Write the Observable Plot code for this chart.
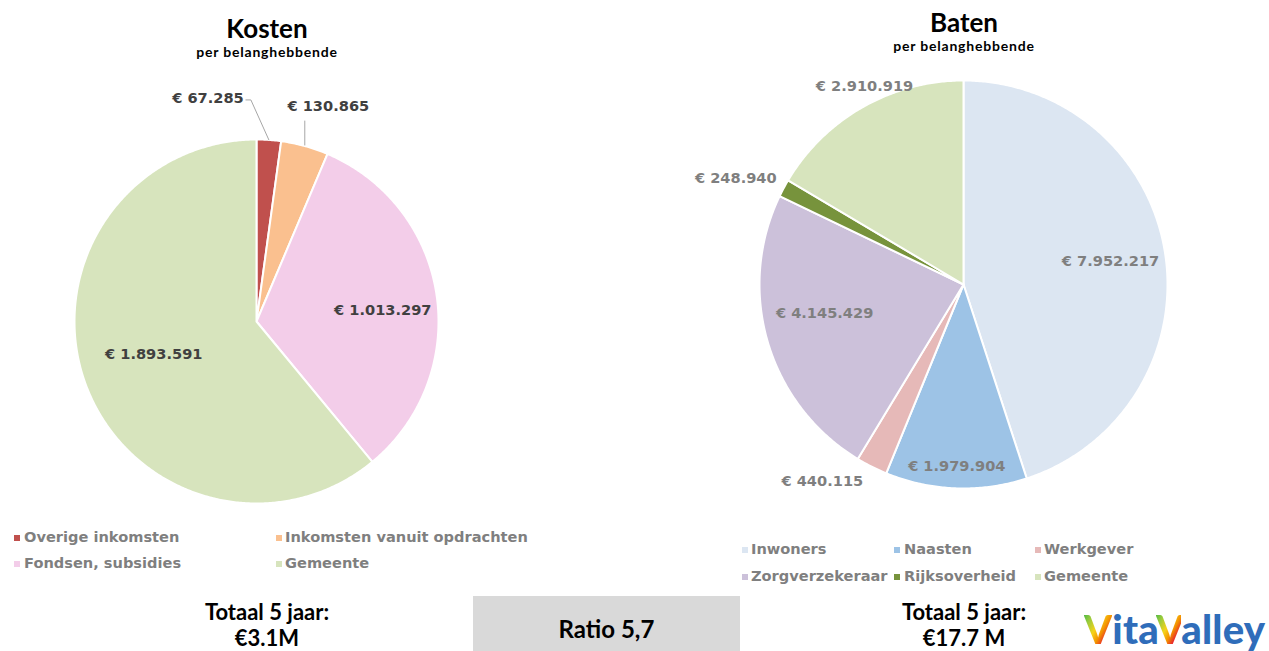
<!DOCTYPE html>
<html>
<head>
<meta charset="utf-8">
<script src="https://cdn.jsdelivr.net/npm/d3@7"></script>
<script src="https://cdn.jsdelivr.net/npm/@observablehq/plot@0.6"></script>
<style>
  html, body { margin: 0; padding: 0; background: #fff; }
  body { width: 1269px; height: 651px; overflow: hidden; position: relative; font-family: "DejaVu Sans", Verdana, sans-serif; }
  .abs { position: absolute; }
  .title { font-family: Lato, "Open Sans", sans-serif; font-weight: 700; font-size: 26px; color: #000; text-align: center; width: 300px; line-height: 1; }
  .subtitle { font-family: Lato, "Open Sans", sans-serif; font-weight: 700; font-size: 14px; letter-spacing: 0.8px; color: #000; text-align: center; width: 300px; line-height: 1; }
  .legend-item { font-family: "DejaVu Sans", sans-serif; font-weight: 700; font-size: 14.6px; color: #7f7f7f; white-space: nowrap; line-height: 1; }
  .swatch { position: absolute; width: 6px; height: 6px; }
  .total { font-family: Lato, "Open Sans", sans-serif; font-weight: 700; font-size: 22px; color: #000; text-align: center; width: 300px; line-height: 26px; }
  .ratio { background: #d9d9d9; font-family: Lato, "Open Sans", sans-serif; font-weight: 700; font-size: 24px; color: #000; display: flex; align-items: center; justify-content: center; padding-top: 10px; box-sizing: border-box; }
  .logo { font-family: Lato, "Open Sans", sans-serif; font-weight: 900; font-size: 40px; color: #2f6dba; line-height: 1; white-space: nowrap; letter-spacing: 0.2px; }
  .logo .v { background: linear-gradient(120deg, #1fae4b 0%, #9acb3c 25%, #f6d21a 45%, #f39200 60%, #e4003a 78%, #8e1e8e 100%); -webkit-background-clip: text; background-clip: text; color: transparent; }
</style>
</head>
<body>
<script>
// ---------- DATA ----------
const kostenCategories = ["Overige inkomsten", "Inkomsten vanuit opdrachten", "Fondsen, subsidies", "Gemeente"];
const kostenValues = [67285, 130865, 1013297, 1893591];
const kostenColors = ["#c0504d", "#fac08f", "#f3cde9", "#d7e4bd"];

const batenCategories = ["Inwoners", "Naasten", "Werkgever", "Zorgverzekeraar", "Rijksoverheid", "Gemeente"];
const batenValues = [7952217, 1979904, 440115, 4145429, 248940, 2910919];
const batenColors = ["#dce6f2", "#9dc3e6", "#e6b9b8", "#ccc1da", "#77933c", "#d7e4bd"];

const kostenTotalLabel = ["Totaal 5 jaar:", "€3.1M"];
const batenTotalLabel = ["Totaal 5 jaar:", "€17.7 M"];
const ratioLabel = "Ratio 5,7";

// ---------- LAYOUT (label placement relative to slice mid-angle) ----------
// k: distance from centre in radii, dx/dy: pixel nudge, anchor, leader: pixel offsets from slice edge
const kostenLabelLayout = [
  {k: 1.23, dx: -28, dy: 0, anchor: "end", leader: [[0, 0], [-18, -40], [-23, -40]]},
  {k: 1.18, dx: -26, dy: -8, anchor: "start", leader: [[0, -1], [0, -25]]},
  {k: 0.69, dx: 2, dy: 7, anchor: "middle"},
  {k: 0.60, dx: 0, dy: -4, anchor: "middle"}
];
const batenLabelLayout = [
  {k: 0.73, dx: 0, dy: 0, anchor: "middle"},
  {k: 0.89, dx: 0, dy: 0, anchor: "middle"},
  {k: 1.08, dx: -42, dy: 0, anchor: "middle"},
  {k: 0.70, dx: -2, dy: -12, anchor: "middle"},
  {k: 1.00, dx: -7, dy: -10, anchor: "end"},
  {k: 1.10, dx: 12, dy: -3, anchor: "middle"}
];

const euro = d3.formatLocale({decimal: ",", thousands: ".", grouping: [3], currency: ["€ ", ""]}).format("$,.0f");

function pieChart({categories, values, colors, layout, labelColor, svgW, svgH, cx, cy, R}) {
  const arcs = d3.pie().sort(null).value(d => d)(values);
  const poly = [];
  const labels = [];
  const leaders = [];
  arcs.forEach((a, i) => {
    const key = categories[i];
    const n = Math.max(2, Math.ceil((a.endAngle - a.startAngle) / (Math.PI / 360)));
    poly.push({key, x: 0, y: 0});
    for (let j = 0; j <= n; j++) {
      const t = a.startAngle + (a.endAngle - a.startAngle) * j / n;
      poly.push({key, x: Math.sin(t), y: -Math.cos(t)});
    }
    poly.push({key, x: 0, y: 0});
    const mid = (a.startAngle + a.endAngle) / 2;
    const L = layout[i];
    labels.push({
      x: L.k * Math.sin(mid) + L.dx / R,
      y: -L.k * Math.cos(mid) + L.dy / R,
      text: euro(values[i]),
      anchor: L.anchor
    });
    if (L.leader) {
      const ex = Math.sin(mid), ey = -Math.cos(mid);
      L.leader.forEach(([ox, oy]) => leaders.push({key, x: ex + ox / R, y: ey + oy / R}));
    }
  });
  const textOpts = {x: "x", y: "y", text: "text", fill: labelColor, fontSize: 14.6, fontWeight: "bold",
    fontFamily: "DejaVu Sans, Verdana, sans-serif"};
  return Plot.plot({
    width: svgW, height: svgH,
    margin: 0,
    x: {domain: [-cx / R, (svgW - cx) / R], range: [0, svgW], axis: null},
    y: {domain: [-cy / R, (svgH - cy) / R], range: [0, svgH], axis: null},
    color: {domain: categories, range: colors},
    style: {background: "transparent", overflow: "visible"},
    marks: [
      Plot.line(poly, {x: "x", y: "y", z: "key", fill: "key", stroke: "white", strokeWidth: 2, strokeLinejoin: "round"}),
      Plot.line(leaders, {x: "x", y: "y", z: "key", stroke: "#a6a6a6", strokeWidth: 1}),
      Plot.text(labels.filter(d => d.anchor === "middle"), {...textOpts, textAnchor: "middle"}),
      Plot.text(labels.filter(d => d.anchor === "start"), {...textOpts, textAnchor: "start"}),
      Plot.text(labels.filter(d => d.anchor === "end"), {...textOpts, textAnchor: "end"})
    ]
  });
}

function place(el, left, top) {
  el.classList.add("abs");
  el.style.left = left + "px";
  el.style.top = top + "px";
  document.body.appendChild(el);
  return el;
}
function div(cls, html) {
  const d = document.createElement("div");
  d.className = cls;
  d.innerHTML = html;
  return d;
}

// ---------- PIES ----------
const kostenSvg = pieChart({categories: kostenCategories, values: kostenValues, colors: kostenColors,
  layout: kostenLabelLayout, labelColor: "#404040", svgW: 520, svgH: 460, cx: 256, cy: 251, R: 182});
place(kostenSvg, 0, 70);

const batenSvg = pieChart({categories: batenCategories, values: batenValues, colors: batenColors,
  layout: batenLabelLayout, labelColor: "#7f7f7f", svgW: 600, svgH: 470, cx: 303, cy: 224, R: 204});
place(batenSvg, 660, 60);

// ---------- TITLES ----------
place(div("title", "Kosten"), 267 - 150, 15);
place(div("subtitle", "per belanghebbende"), 267 - 150, 45);
place(div("title", "Baten"), 964 - 150, 9);
place(div("subtitle", "per belanghebbende"), 964 - 150, 39);

// ---------- LEGENDS ----------
function legend(categories, colors, cols, rows) {
  categories.forEach((c, i) => {
    const col = cols[i % cols.length];
    const row = rows[Math.floor(i / cols.length)];
    const sw = document.createElement("div");
    sw.className = "swatch";
    sw.style.background = colors[i];
    place(sw, col.marker, row - 3);
    place(div("legend-item", c), col.text, row - 8);
  });
}
legend(kostenCategories, kostenColors, [{marker: 14, text: 24}, {marker: 276, text: 285}], [538, 564]);
legend(batenCategories, batenColors, [{marker: 742, text: 751}, {marker: 894, text: 904}, {marker: 1035, text: 1044}], [550, 577]);

// ---------- TOTALS / RATIO / LOGO ----------
place(div("total", kostenTotalLabel.join("<br>")), 267 - 150, 599);
place(div("total", batenTotalLabel.join("<br>")), 964 - 150, 599);
const ratio = div("ratio", ratioLabel);
ratio.style.width = "267px";
ratio.style.height = "55px";
place(ratio, 473, 596);
place(div("logo", '<span class="v">V</span>ita<span class="v">V</span>alley'), 1084, 609);
</script>
</body>
</html>
